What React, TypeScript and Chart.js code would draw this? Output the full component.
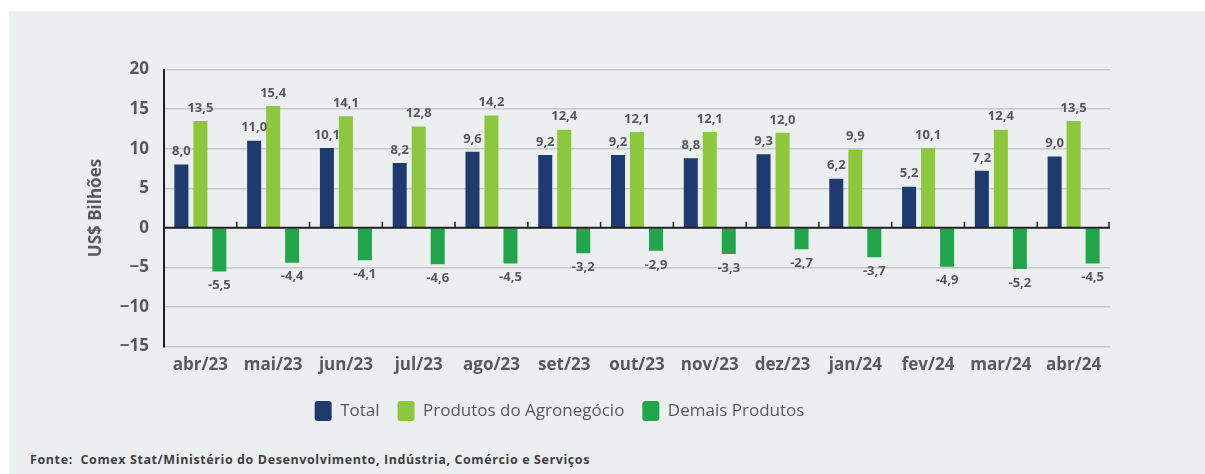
import React, { useEffect, useRef } from "react";
import { Chart, registerables } from "chart.js";

Chart.register(...registerables);

const categories = ["abr/23", "mai/23", "jun/23", "jul/23", "ago/23", "set/23", "out/23", "nov/23", "dez/23", "jan/24", "fev/24", "mar/24", "abr/24"];
const totalValues = [8.0, 11.0, 10.1, 8.2, 9.6, 9.2, 9.2, 8.8, 9.3, 6.2, 5.2, 7.2, 9.0];
const agroValues = [13.5, 15.4, 14.1, 12.8, 14.2, 12.4, 12.1, 12.1, 12.0, 9.9, 10.1, 12.4, 13.5];
const demaisValues = [-5.5, -4.4, -4.1, -4.6, -4.5, -3.2, -2.9, -3.3, -2.7, -3.7, -4.9, -5.2, -4.5];
const seriesNames = ["Total", "Produtos do Agronegócio", "Demais Produtos"];
const seriesColors = ["#1F3A6E", "#8DC63F", "#23A64B"];
const yTicks = [-15, -10, -5, 0, 5, 10, 15, 20];

const FONT = "'Open Sans', sans-serif";
const TEXT = "#58595B";

const fmt = (v: number) => v.toFixed(1).replace(".", ",");

const labelPlugin = {
  id: "valueLabels",
  afterDatasetsDraw(chart: any) {
    const ctx = chart.ctx;
    ctx.save();
    ctx.font = `bold 13px ${FONT}`;
    ctx.fillStyle = TEXT;
    ctx.textAlign = "center";
    ctx.textBaseline = "middle";
    chart.data.datasets.forEach((ds: any, di: number) => {
      const meta = chart.getDatasetMeta(di);
      meta.data.forEach((el: any, i: number) => {
        const v = ds.data[i];
        const y = v >= 0 ? el.y - 13 : el.y + 14;
        ctx.fillText(fmt(v), el.x, y);
      });
    });
    // zero line + category tick marks
    const xs = chart.scales.x;
    const ys = chart.scales.y;
    const y0 = ys.getPixelForValue(0);
    ctx.strokeStyle = "#231F20";
    ctx.lineWidth = 2;
    ctx.beginPath();
    ctx.moveTo(chart.chartArea.left, y0);
    ctx.lineTo(chart.chartArea.right, y0);
    ctx.stroke();
    ctx.lineWidth = 1.5;
    const n = chart.data.labels.length;
    for (let i = 0; i < n; i++) {
      const x = i < n - 1 ? (xs.getPixelForValue(i) + xs.getPixelForValue(i + 1)) / 2 : xs.right - 1;
      ctx.beginPath();
      ctx.moveTo(x, y0);
      ctx.lineTo(x, y0 - 6);
      ctx.stroke();
    }
    ctx.restore();
  },
};

export default function App() {
  const ref = useRef<HTMLCanvasElement>(null);
  useEffect(() => {
    if (!ref.current) return;
    const values = [totalValues, agroValues, demaisValues];
    const chart = new Chart(ref.current, {
      type: "bar",
      data: {
        labels: categories,
        datasets: values.map((d, i) => ({
          label: seriesNames[i],
          data: d,
          backgroundColor: seriesColors[i],
          borderColor: seriesColors[i],
          borderWidth: 0,
          borderRadius: 0,
          categoryPercentage: 0.783,
          barPercentage: 0.737,
        })),
      },
      options: {
        responsive: true,
        maintainAspectRatio: false,
        animation: false,
        layout: { padding: { left: 0, right: 95, top: 58.5, bottom: 14 } },
        plugins: {
          tooltip: { enabled: false },
          legend: {
            position: "bottom",
            labels: {
              font: { family: FONT, size: 17 },
              color: TEXT,
              boxWidth: 17,
              boxHeight: 20,
              useBorderRadius: true,
              borderRadius: 3,
              padding: 18,
            },
          },
        },
        scales: {
          x: {
            grid: { display: false, drawTicks: false },
            border: { display: false },
            ticks: { font: { family: FONT, size: 17, weight: "bold" }, color: TEXT, padding: 8 },
          },
          y: {
            min: -15,
            max: 20,
            afterBuildTicks: (s: any) => {
              s.ticks = yTicks.map((v) => ({ value: v }));
            },
            afterFit: (s: any) => {
              s.width = 155;
            },
            grid: { color: "#C6C8CA", lineWidth: 1.5, drawTicks: false },
            border: { display: true, color: "#231F20", width: 2 },
            ticks: {
              font: { family: FONT, size: 17, weight: "bold" },
              color: TEXT,
              padding: 15,
              callback: (v: any) => String(v).replace("-", "−"),
            },
            title: {
              display: true,
              text: "US$ Bilhões",
              font: { family: FONT, size: 17, weight: "bold" },
              color: TEXT,
              padding: { top: 77, bottom: 0 },
            },
          },
        },
      },
      plugins: [labelPlugin],
    });
    return () => chart.destroy();
  }, []);

  return (
    <div style={{ position: "fixed", top: 11, left: 9, width: 1196, height: 463, background: "#ECEFF0" }}>
      <div style={{ position: "absolute", left: 0, top: 0, width: 1196, height: 434 }}>
        <canvas ref={ref} />
      </div>
      <div
        style={{
          position: "absolute",
          left: 21,
          top: 440,
          fontFamily: FONT,
          fontWeight: 700,
          fontSize: 12.5,
          letterSpacing: 0.6,
          color: "#414042",
          whiteSpace: "pre",
        }}
      >
        {"Fonte:  Comex Stat/Ministério do Desenvolvimento, Indústria, Comércio e Serviços"}
      </div>
    </div>
  );
}
